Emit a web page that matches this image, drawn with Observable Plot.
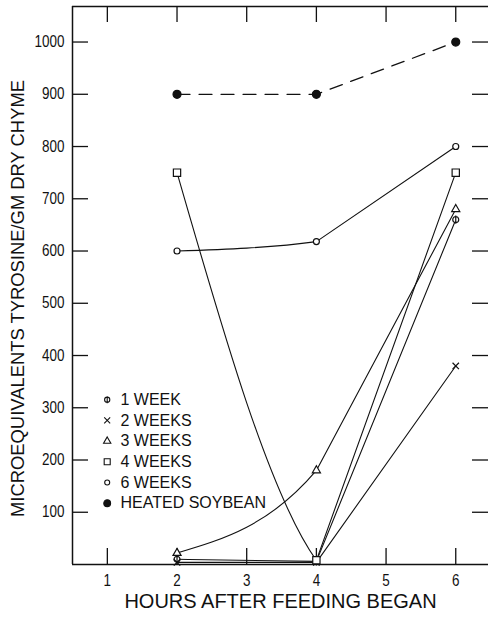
<!DOCTYPE html>
<html>
<head>
<meta charset="utf-8">
<script src="https://cdn.jsdelivr.net/npm/d3@7"></script>
<script src="https://cdn.jsdelivr.net/npm/@observablehq/plot@0.6"></script>
<style>
  html, body { margin: 0; padding: 0; background: #fff; }
  #chart svg { display: block; background: #fff; color: #111; }
</style>
</head>
<body>
<div id="chart"></div>
<script>
// Sampling times (hours after feeding began)
const hours = [2, 4, 6];

// Microequivalents tyrosine per gram dry chyme, one array per group
const oneWeek       = [10, 6, 660];
const twoWeeks      = [4, 4, 380];
const threeWeeks    = [22, 180, 680];
const fourWeeks     = [750, 8, 750];
const sixWeeks      = [600, 618, 800];
const heatedSoybean = [900, 900, 1000];

const seriesNames = ["1 WEEK", "2 WEEKS", "3 WEEKS", "4 WEEKS", "6 WEEKS", "HEATED SOYBEAN"];
const seriesValues = [oneWeek, twoWeeks, threeWeeks, fourWeeks, sixWeeks, heatedSoybean];

// Axis ticks
const xTicks = [1, 2, 3, 4, 5, 6];
const yTicks = [100, 200, 300, 400, 500, 600, 700, 800, 900, 1000];
const xDomain = [0.5, 6.47];
const yDomain = [0, 1068];

const xLabel = "HOURS AFTER FEEDING BEGAN";
const yLabel = "MICROEQUIVALENTS TYROSINE/GM DRY CHYME";

// Tidy rows for the marks
const rows = seriesNames.flatMap((name, i) =>
  hours.map((h, j) => ({series: name, hour: h, value: seriesValues[i][j]}))
);

// Circle crossed by a vertical bar (the "1 week" marker)
const circleBar = {
  draw(context, size) {
    const r = Math.sqrt(size / Math.PI);
    context.moveTo(r, 0);
    context.arc(0, 0, r, 0, 2 * Math.PI);
    context.moveTo(0, -r * 1.35);
    context.lineTo(0, r * 1.35);
  }
};

const styles = {
  "1 WEEK":         {symbol: circleBar,  r: 3,   fill: "white"},
  "2 WEEKS":        {symbol: "times",    r: 3,   fill: "none"},
  "3 WEEKS":        {symbol: "triangle", r: 3,   fill: "white"},
  "4 WEEKS":        {symbol: "square",   r: 4.1, fill: "white"},
  "6 WEEKS":        {symbol: "circle",   r: 3,   fill: "white"},
  "HEATED SOYBEAN": {symbol: "circle",   r: 4,   fill: "#111"}
};
const legendStyles = {
  "1 WEEK":         {r: 2.6},
  "2 WEEKS":        {r: 2.8},
  "3 WEEKS":        {r: 2.7},
  "4 WEEKS":        {r: 3.4},
  "6 WEEKS":        {r: 2.5},
  "HEATED SOYBEAN": {r: 3.4}
};

// Hermite curve: the first leg eases into the second point (monotone tangent
// where the series keeps its direction, half the chord slope where it turns
// back); the following legs are drawn straight.
function easedFirstLeg(context) {
  let xs, ys;
  return {
    areaStart() {}, areaEnd() {},
    lineStart() { xs = []; ys = []; },
    point(x, y) { xs.push(+x); ys.push(+y); },
    lineEnd() {
      const n = xs.length;
      if (!n) return;
      context.moveTo(xs[0], ys[0]);
      let start = 1;
      if (n > 2) {
        const h0 = xs[1] - xs[0], h1 = xs[2] - xs[1];
        const s0 = (ys[1] - ys[0]) / h0, s1 = (ys[2] - ys[1]) / h1;
        const m1 = s0 * s1 > 0
          ? (Math.sign(s0) + Math.sign(s1)) *
            Math.min(Math.abs(s0), Math.abs(s1), 0.5 * Math.abs((s0 * h1 + s1 * h0) / (h0 + h1)))
          : s0 / 2;
        const m0 = (3 * s0 - m1) / 2;
        context.bezierCurveTo(
          xs[0] + h0 / 3, ys[0] + m0 * h0 / 3,
          xs[1] - h0 / 3, ys[1] - m1 * h0 / 3,
          xs[1], ys[1]
        );
        start = 2;
      }
      for (let i = start; i < n; i++) context.lineTo(xs[i], ys[i]);
    }
  };
}

const W = 488, H = 620;
const mL = 72, mR = 0, mT = 6, mB = 56;
const frameW = W - mL - mR, frameH = H - mT - mB;

const textFont = "'Liberation Sans', Arimo, sans-serif";
const ink = "#111";

const solidSeries = seriesNames.slice(0, 5);

const marks = [
  // frame: left, bottom and top edges
  Plot.ruleX([xDomain[0]], {stroke: ink, strokeWidth: 1.5}),
  Plot.ruleY([yDomain[0]], {stroke: ink, strokeWidth: 1.5}),
  Plot.ruleY([yDomain[1]], {stroke: ink, strokeWidth: 1.5}),
  // inward ticks on all four sides
  Plot.tickY(yTicks, {y: d => d, insetRight: frameW - 16, stroke: ink, strokeWidth: 1.3}),
  Plot.tickY(yTicks, {y: d => d, insetLeft: frameW - 16, stroke: ink, strokeWidth: 1.3}),
  Plot.tickX(xTicks, {x: d => d, insetTop: frameH - 16, stroke: ink, strokeWidth: 1.3}),
  Plot.tickX(xTicks, {x: d => d, insetBottom: frameH - 16, stroke: ink, strokeWidth: 1.3}),
  // tick labels
  Plot.axisY(yTicks, {anchor: "left", tickSize: 0, tickPadding: 8, label: null,
    tickFormat: d3.format("d"), fontSize: 16, fontFamily: textFont, fill: ink}),
  Plot.axisX(xTicks, {anchor: "bottom", tickSize: 0, tickPadding: 10, label: null,
    tickFormat: d3.format("d"), fontSize: 16, fontFamily: textFont, fill: ink}),
  // axis titles
  Plot.text([xLabel], {frameAnchor: "bottom", dy: 37, fontSize: 20, fontFamily: textFont,
    fill: ink, textAnchor: "middle", lineAnchor: "middle"}),
  Plot.text([yLabel], {frameAnchor: "left", dx: -54, dy: 13, rotate: -90, fontSize: 18.4,
    fontFamily: textFont, fill: ink, textAnchor: "middle", lineAnchor: "middle"}),
  // curves
  Plot.line(rows.filter(d => solidSeries.includes(d.series)), {
    x: "hour", y: "value", z: "series", curve: easedFirstLeg, stroke: ink, strokeWidth: 1.1
  }),
  Plot.line(rows.filter(d => d.series === "HEATED SOYBEAN"), {
    x: "hour", y: "value", curve: easedFirstLeg, stroke: ink, strokeWidth: 1.3,
    strokeDasharray: "13,9"
  }),
  // markers
  ...seriesNames.map(name => Plot.dot(rows.filter(d => d.series === name), {
    x: "hour", y: "value", symbol: styles[name].symbol, r: styles[name].r,
    fill: styles[name].fill, stroke: ink, strokeWidth: 1.2
  })),
  // legend
  ...seriesNames.flatMap((name, i) => {
    const rowY = 399.2 + i * 20.7 - mT;
    return [
      Plot.dot([name], {frameAnchor: "top-left", dx: 34.7, dy: rowY,
        symbol: styles[name].symbol, r: legendStyles[name].r,
        fill: styles[name].fill, stroke: ink, strokeWidth: 1.1}),
      Plot.text([name], {frameAnchor: "top-left", dx: 48, dy: rowY, text: d => d,
        fontSize: 16, fontFamily: textFont, fill: ink, textAnchor: "start", lineAnchor: "middle"})
    ];
  })
];

const chart = Plot.plot({
  width: W,
  height: H,
  marginLeft: mL,
  marginRight: mR,
  marginTop: mT,
  marginBottom: mB,
  x: {domain: xDomain, axis: null},
  y: {domain: yDomain, axis: null},
  style: {background: "#fff", color: ink},
  marks
});

document.getElementById("chart").appendChild(chart);

// Tick numerals are set in a narrow face: squeeze each label horizontally.
d3.select(chart)
  .selectAll('g[aria-label="y-axis tick label"] text, g[aria-label="x-axis tick label"] text')
  .each(function () {
    const len = this.getComputedTextLength();
    this.setAttribute("textLength", (len * 0.84).toFixed(2));
    this.setAttribute("lengthAdjust", "spacingAndGlyphs");
  });
</script>
</body>
</html>
